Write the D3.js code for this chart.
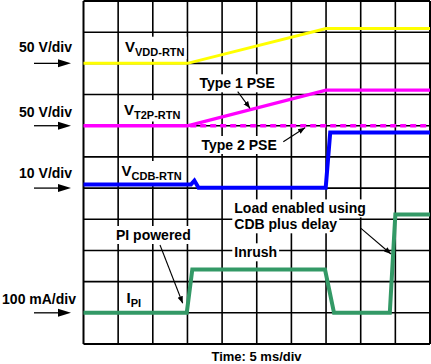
<!DOCTYPE html>
<html><head><meta charset="utf-8">
<script src="https://cdn.jsdelivr.net/npm/d3@7"></script>
<style>
html,body{margin:0;padding:0;background:#fff;}
svg{display:block;font-family:"Liberation Sans",Arial,sans-serif;font-weight:bold;}
</style></head>
<body><div id="chart"></div>
<script>
// ---- data (time in ms, 5 ms/div, 10 divisions) ----
const timeTicks = [0,5,10,15,20,25,30,35,40,45,50];
const divTicks = [0,1,2,3,4,5,6,7,8,9,10,11];

// V_VDD-RTN (volts), 50 V/div, ground at division 9
const vddTime = [0,15,35,50];
const vddVolts = [0,0,56,56];
// V_T2P-RTN Type 1 PSE (volts), 50 V/div, ground at division 7
const t2p1Time = [0,15,35,50];
const t2p1Volts = [0,0,57,57];
// V_T2P-RTN Type 2 PSE (dashed)
const t2p2Time = [15.4,50];
const t2p2Volts = [0,0];
// V_CDB-RTN (volts), 10 V/div, ground at division 5
const cdbTime = [0,15.5,16.0,16.6,34.95,35.6,50];
const cdbVolts = [1.15,1.15,2.4,0.1,0.1,17.8,17.8];
// I_PI (mA), 100 mA/div, ground at division 1
const ipiTime = [0,14.9,15.7,34.85,36.15,44.2,45.0,50];
const ipiMilliamps = [0,0,139,139,0,0,315,315];

const scaleLabels = ["50 V/div","50 V/div","10 V/div","100 mA/div"];
const xLabel = "Time: 5 ms/div";

// ---- layout ----
const W = 431, H = 364;
const x = d3.scaleLinear().domain([0,50]).range([83.5,430]);
const y = d3.scaleLinear().domain([0,11]).range([344,1]);

const svg = d3.select("#chart").append("svg").attr("width",W).attr("height",H);
svg.append("rect").attr("width",W).attr("height",H).attr("fill","#fff");

// grid
const grid = svg.append("g");
grid.selectAll("line.v").data(timeTicks).join("line")
  .attr("x1",d=>x(d)).attr("x2",d=>x(d)).attr("y1",y(11)).attr("y2",y(0))
  .attr("stroke","#000").attr("stroke-width",d=>(d===0||d===50)?2:1.6);
grid.selectAll("line.h").data(divTicks).join("line")
  .attr("y1",d=>y(d)).attr("y2",d=>y(d)).attr("x1",x(0)).attr("x2",x(50))
  .attr("stroke","#000").attr("stroke-width",d=>(d===0||d===11)?2:1.6);

const bgLayer = svg.append("g");
const traceLayer = svg.append("g");
const textLayer = svg.append("g");

function addBg(sel, pad){
  const b = sel.node().getBBox();
  bgLayer.append("rect").attr("x",b.x-pad).attr("y",b.y-pad+1)
    .attr("width",b.width+2*pad).attr("height",b.height+2*pad-2).attr("fill","#fff");
}

// traces
function trace(times, vals, ground, perDiv, color, width, dash){
  const pts = times.map((t,i)=>[x(t), y(ground + vals[i]/perDiv)]);
  const p = traceLayer.append("path").attr("d", d3.line()(pts))
    .attr("fill","none").attr("stroke",color).attr("stroke-width",width)
    .attr("stroke-linejoin","miter");
  if(dash) p.attr("stroke-dasharray",dash);
}
trace(vddTime, vddVolts, 9, 50, "#ffff00", 3);
trace(t2p2Time, t2p2Volts, 7, 50, "#ff00ff", 3.3, "6,4");
trace(t2p1Time, t2p1Volts, 7, 50, "#ff00ff", 3.3);
trace(cdbTime, cdbVolts, 5, 10, "#0000ff", 4);
trace(ipiTime, ipiMilliamps, 1, 100, "#339966", 4);

// left scale labels + arrows
const grounds = [9,7,5,1];
const labelBase = [52,117,178,303.5];
const labelEnd = [72,72,72,76];
svg.append("defs").append("marker").attr("id","ah").attr("viewBox","0 0 10 10")
  .attr("refX",10).attr("refY",5).attr("markerWidth",7).attr("markerHeight",7)
  .attr("markerUnits","userSpaceOnUse").attr("orient","auto")
  .append("path").attr("d","M0,1 L10,5 L0,9 Z").attr("fill","#000");

scaleLabels.forEach((s,i)=>{
  textLayer.append("text").attr("x",labelEnd[i]).attr("y",labelBase[i])
    .attr("text-anchor","end").attr("font-size",14).text(s);
  const gy = y(grounds[i]);
  textLayer.append("line").attr("x1",34).attr("x2",58).attr("y1",gy).attr("y2",gy)
    .attr("stroke","#000").attr("stroke-width",1.3);
  textLayer.append("path").attr("d",`M58,${gy-4} L71,${gy} L58,${gy+4} Z`).attr("fill","#000");
});

// trace name labels with subscripts
function subLabel(main, sub, x0, base, subBase){
  const t = textLayer.append("text").attr("x",x0).attr("y",base);
  t.append("tspan").attr("font-size",15).text(main);
  t.append("tspan").attr("font-size",11).attr("dy",subBase-base).text(sub);
  addBg(t,2);
}
subLabel("V","VDD-RTN",125,51.7,56);
subLabel("V","T2P-RTN",124,115,118.5);
subLabel("V","CDB-RTN",121.5,176,180);
subLabel("I","PI",126.5,303.3,306.5);

// annotations
function note(lines, x0, base){
  const g = textLayer.append("g");
  lines.forEach((l,i)=>{
    const t = g.append("text").attr("x",x0).attr("y",base + i*15.9).attr("font-size",14).text(l);
    addBg(t,2);
  });
  return g;
}
note(["Type 1 PSE"],199.5,88.3);
note(["Type 2 PSE"],201.5,150);
note(["PI powered"],116,240);
note(["Inrush"],234.3,257.3);
note(["Load enabled using","CDB plus delay"],234.3,213.4);

function arrow(x1,y1,x2,y2){
  textLayer.append("line").attr("x1",x1).attr("y1",y1).attr("x2",x2).attr("y2",y2)
    .attr("stroke","#000").attr("stroke-width",1.1).attr("marker-end","url(#ah)");
}
arrow(237.7,91.7,250,108.3);
arrow(283.3,141.7,305,127.7);
arrow(160,245,182.7,303.3);
arrow(361,228.3,391,254);

// x label
textLayer.append("text").attr("x",256.5).attr("y",360.5).attr("text-anchor","middle")
  .attr("font-size",13).text(xLabel);
</script>
</body></html>
